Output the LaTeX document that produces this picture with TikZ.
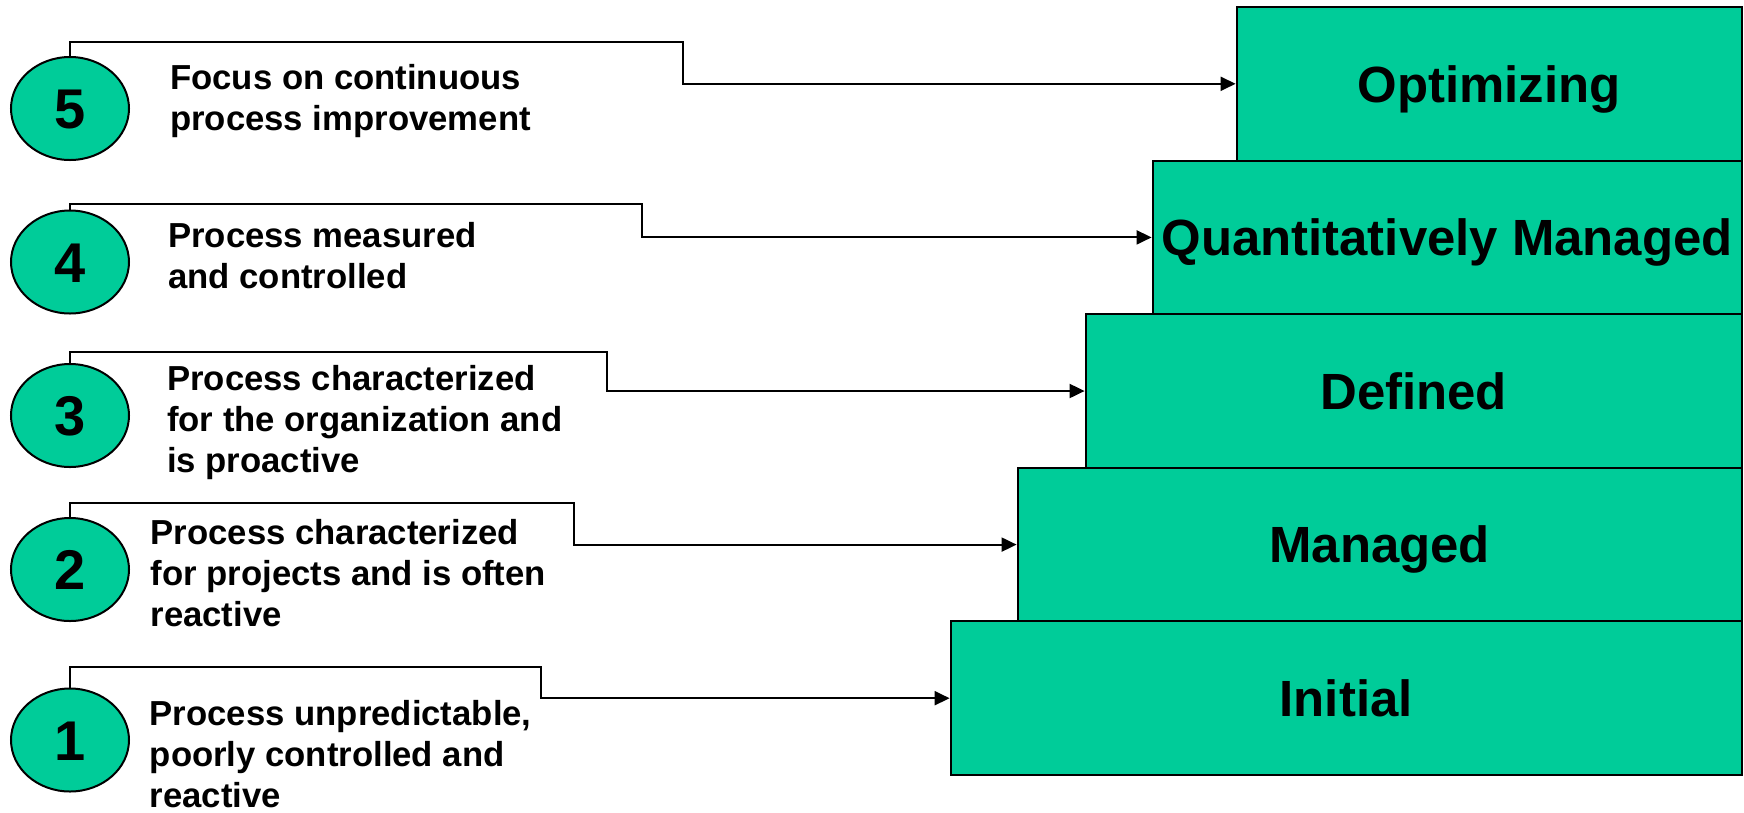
\documentclass[tikz,border=0pt]{standalone}
\usepackage{fontspec}
\setmainfont{Liberation Sans}
\usetikzlibrary{arrows.meta,shapes.geometric}
\definecolor{levelgreen}{RGB}{0,204,153}

\begin{document}
\begin{tikzpicture}[x=1pt,y=-1pt,
  levelbox/.style={draw=black,line width=2pt,fill=levelgreen,rectangle,
    inner sep=0pt,anchor=north east,minimum height=153.6pt,
    font=\fontsize{50.9}{60}\selectfont\bfseries,text height=36.4pt,text depth=0pt},
  levelnum/.style={ellipse,draw=black,line width=2pt,fill=levelgreen,
    inner sep=0pt,minimum width=118pt,minimum height=103pt,
    font=\fontsize{56}{60}\selectfont\bfseries,text height=40pt,text depth=0pt},
  desc/.style={inner sep=0pt,anchor=base west,
    font=\fontsize{34.7}{41}\selectfont\bfseries},
  conn/.style={draw=black,line width=2pt,-{Triangle[length=15pt,width=14pt]}}]

\useasboundingbox (0,0) rectangle (1744,812);

% the five maturity levels, stacked as steps
\node[levelbox,minimum width=505pt] (b5) at (1742.6,6) {Optimizing};
\node[levelbox,minimum width=589pt] (b4) at (1742.6,159.6) {Quantitatively Managed};
\node[levelbox,minimum width=656pt] (b3) at (1742.6,313.2) {Defined};
\node[levelbox,minimum width=724pt] (b2) at (1742.6,466.8) {Managed};
\node[levelbox,minimum width=791pt] (b1) at (1742.6,620.4) {Initial};

% level numbers
\node[levelnum] (c5) at (70,108.5) {5};
\node[levelnum] (c4) at (70,262) {4};
\node[levelnum] (c3) at (70,415.5) {3};
\node[levelnum] (c2) at (70,569.5) {2};
\node[levelnum] (c1) at (70,740) {1};

% descriptions
\node[desc] (t5) at (170,89.3) {\begin{tabular}[t]{@{}l@{}}Focus on continuous\\process improvement\end{tabular}};
\node[desc] (t4) at (168,247) {\begin{tabular}[t]{@{}l@{}}Process measured\\and controlled\end{tabular}};
\node[desc] (t3) at (167,390) {\begin{tabular}[t]{@{}l@{}}Process characterized\\for the organization and\\is proactive\end{tabular}};
\node[desc] (t2) at (150.4,544) {\begin{tabular}[t]{@{}l@{}}Process characterized\\for projects and is often\\reactive\end{tabular}};
\node[desc] (t1) at (149.6,725.7) {\begin{tabular}[t]{@{}l@{}}Process unpredictable,\\poorly controlled and\\reactive\end{tabular}};

% bends of the connectors
\coordinate (k5) at (683,42.3);
\coordinate (k4) at (642,204);
\coordinate (k3) at (607,351.7);
\coordinate (k2) at (574,502.7);
\coordinate (k1) at (540.5,666.7);

% connectors from each number to its level
\draw[conn] (c5.north) |- (k5) |- (b5.west);
\draw[conn] (c4.north) |- (k4) |- (b4.west);
\draw[conn] (c3.north) |- (k3) |- (b3.west);
\draw[conn] (c2.north) |- (k2) |- (b2.west);
\draw[conn] (c1.north) |- (k1) |- (b1.west);

\end{tikzpicture}
\end{document}
